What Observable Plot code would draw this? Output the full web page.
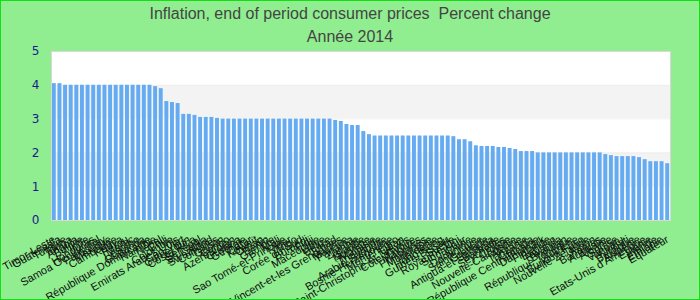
<!DOCTYPE html>
<html>
<head>
<meta charset="utf-8">
<script src="https://cdn.jsdelivr.net/npm/d3@7"></script>
<script src="https://cdn.jsdelivr.net/npm/@observablehq/plot@0.6"></script>
<style>
  html, body { margin: 0; padding: 0; }
  #chart {
    position: relative; width: 700px; height: 300px; box-sizing: border-box;
    background: #90ee90; border: 1px solid #11e011; overflow: hidden;
  }
  .t { text-align: center; font-family: "Liberation Sans", Arial, sans-serif; font-size: 16px; color: #444; line-height: 23px; }
  #title { padding-top: 1px; }
</style>
</head>
<body>
<div id="chart">
  <div class="t" id="title">Inflation, end of period consumer prices&nbsp; Percent change</div>
  <div class="t" id="subtitle">Année 2014</div>
</div>
<script>
const countries = [
  "Timor-Leste","Guatemala","Turquie","Tonga","Angola","Bolivie","Inde","Honduras","Samoa Occidental","Paraguay",
  "Mexique","Cambodge","Kenya","Pérou","Maroc","Lesotho","Ouganda","République Dominicaine","Namibie","Népal",
  "Chili","Colombie","Emirats Arabes Unis","Cap-Vert","Cameroun","Costa Rica","Sénégal","Sri Lanka","Swaziland","Comores",
  "Gabon","Congo","Azerbaïdjan","Guyana","Géorgie","Qatar","Koweït","Oman","Bénin","Gambie",
  "Mali","Sao Tomé-et-Principe","Niger","Togo","Corée du Sud","Burundi","Fidji","Macédoine","Libye","Belize",
  "Tchad","Saint-Vincent-et-les Grenadines","Maurice","Panama","Zambie","Islande","Norvège","Malaisie","Thaïlande","Arabie Saoudite",
  "Bosnie-Herzégovine","Monténégro","Liban","Saint-Christophe-et-Niévès","Côte d'Ivoire","Maldives","Philippines","Mauritanie","Jordanie","Hong Kong",
  "Guinée-Bissau","Suède","Royaume-Uni","Singapour","Chine","Dominique","Sainte-Lucie","Grenade","Antigua-et-Barbuda","Barbade",
  "Seychelles","Croatie","Nouvelle-Calédonie","Algérie","Tanzanie","Canada","République Centrafricaine","Danemark","Finlande","Bahreïn",
  "Rwanda","Bhoutan","République Tchèque","Autriche","Burkina Faso","Nouvelle-Zélande","Japon","Bahamas","Australie","Albanie",
  "Suisse","Vanuatu","Kiribati","Belgique","Arménie","Etats-Unis d'Amérique","Estonie","Irlande","Ethiopie","Equateur"
];
const values = [
  4.05,4.05,4.0,4.0,4.0,4.0,4.0,4.0,4.0,4.0,
  4.0,4.0,4.0,4.0,4.0,4.0,4.0,4.0,3.96,3.9,
  3.52,3.49,3.46,3.14,3.14,3.11,3.05,3.05,3.05,3.02,
  3.0,3.0,3.0,3.0,3.0,3.0,3.0,3.0,3.0,3.0,
  3.0,3.0,3.0,3.0,3.0,3.0,3.0,3.0,3.0,3.0,
  2.96,2.93,2.84,2.81,2.81,2.63,2.54,2.5,2.5,2.5,
  2.5,2.5,2.5,2.5,2.5,2.5,2.5,2.5,2.5,2.5,
  2.5,2.48,2.39,2.39,2.33,2.21,2.19,2.19,2.19,2.16,
  2.16,2.13,2.1,2.04,2.04,2.04,2.0,2.0,2.0,2.0,
  2.0,2.0,2.0,2.0,2.0,2.0,2.0,2.0,1.95,1.92,
  1.89,1.89,1.89,1.89,1.86,1.8,1.74,1.74,1.74,1.68
];
const yTicks = [0, 1, 2, 3, 4, 5];
const bandLows = [1, 3];

const data = countries.map((c, i) => ({country: c, value: values[i]}));
const bands = bandLows.map(b => ({y1: b, y2: b + 1}));

const chart = Plot.plot({
  width: 698,
  height: 251,
  marginTop: 3,
  marginBottom: 79,
  marginLeft: 50,
  marginRight: 29,
  style: {background: "transparent", overflow: "visible"},
  x: {domain: countries, padding: 0.3, paddingOuter: 0.15, axis: null},
  y: {domain: [0, 5], axis: null},
  marks: [
    Plot.frame({fill: "white", stroke: "none"}),
    Plot.rect(bands, {y1: "y1", y2: "y2", fill: "#f3f3f3"}),
    Plot.ruleY(yTicks.slice(1, -1), {stroke: "#e8e8e8", strokeWidth: 0.5}),
    Plot.barY(data, {x: "country", y: "value", fill: "#65abf2"}),
    Plot.frame({stroke: "#d8d8d8"}),
    Plot.axisY({ticks: yTicks, tickSize: 0, tickPadding: 12, tickFormat: "d", label: null, color: "#1a1a8c", fontSize: 12, fontFamily: "DejaVu Sans"}),
    Plot.axisX({tickSize: 0, tickPadding: 18, tickRotate: -30, label: null, color: "#111", fontSize: 11, fontFamily: "Liberation Sans", tickFormat: d => d})
  ]
});
document.getElementById("chart").appendChild(chart);
</script>
</body>
</html>
